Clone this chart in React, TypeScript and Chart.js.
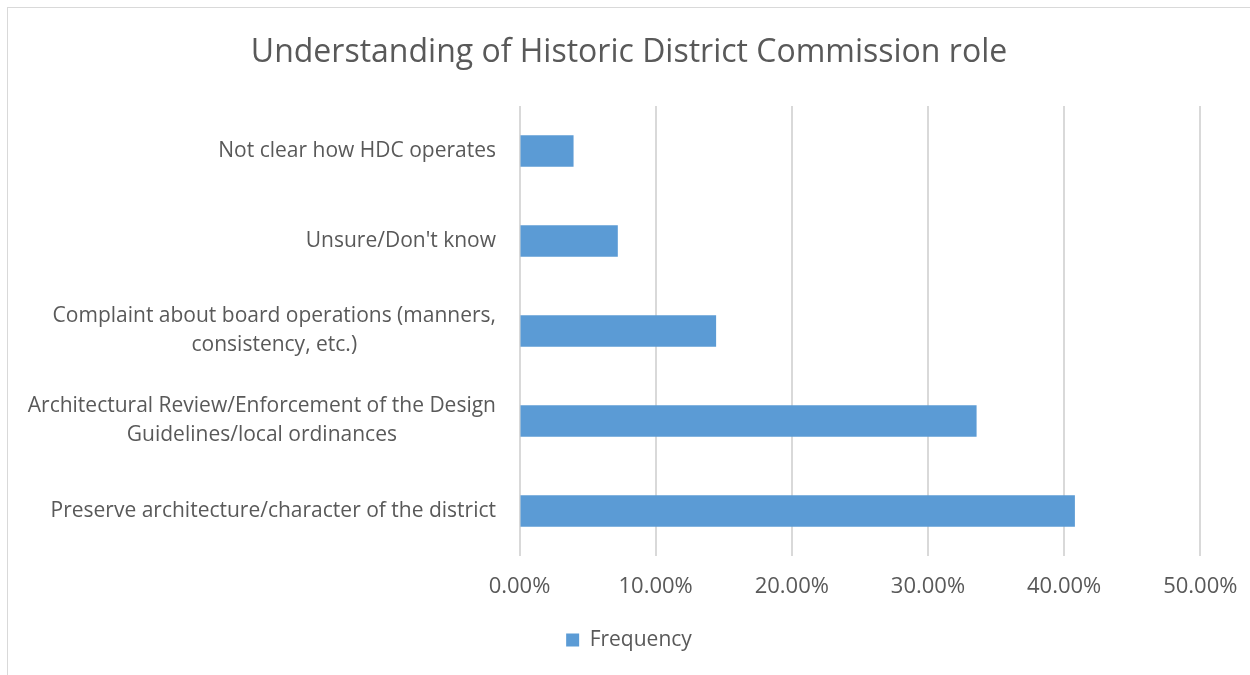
import React, { useEffect, useRef } from "react";
import { Chart, registerables } from "chart.js";

Chart.register(...registerables);

const TITLE = "Understanding of Historic District Commission role";
const SERIES_NAME = "Frequency";
const categories: string[][] = [
  ["Not clear how HDC operates"],
  ["Unsure/Don't know"],
  ["Complaint about board operations (manners,", "consistency, etc.)"],
  ["Architectural Review/Enforcement of the Design", "Guidelines/local ordinances"],
  ["Preserve architecture/character of the district"],
];
const frequency: number[] = [0.0397, 0.0722, 0.1444, 0.3357, 0.4079];
const xTicks: number[] = [0, 0.1, 0.2, 0.3, 0.4, 0.5];

const FONT = '"Open Sans", "Noto Sans", sans-serif';
const TEXT = "#595959";
const BAR = "#5B9BD5";
const GRID = "#D9D9D9";
const LABEL_SIZE = 21;
const LINE_H = 29;

const yLabelPlugin = {
  id: "yLabels",
  afterDraw(chart: any) {
    const ctx = chart.ctx;
    const yScale = chart.scales.y;
    ctx.save();
    ctx.font = `${LABEL_SIZE}px ${FONT}`;
    ctx.fillStyle = TEXT;
    ctx.textBaseline = "middle";
    ctx.textAlign = "center";
    const right = chart.chartArea.left - 23.5;
    categories.forEach((lines, i) => {
      const yc = yScale.getPixelForValue(i);
      const w = Math.max(...lines.map((l) => ctx.measureText(l).width));
      const cx = right - w / 2;
      lines.forEach((l, j) => {
        ctx.fillText(l, cx, yc + (j - (lines.length - 1) / 2) * LINE_H);
      });
    });
    ctx.restore();
  },
};

export default function App() {
  const ref = useRef<HTMLCanvasElement | null>(null);
  useEffect(() => {
    if (!ref.current) return;
    Chart.defaults.font.family = FONT;
    Chart.defaults.color = TEXT;
    const chart = new Chart(ref.current, {
      type: "bar",
      data: {
        labels: categories.map((c) => c.join(" ")),
        datasets: [
          {
            label: SERIES_NAME,
            data: frequency,
            backgroundColor: BAR,
            borderWidth: 0,
            categoryPercentage: 1,
            barPercentage: 0.35,
          },
        ],
      },
      options: {
        indexAxis: "y",
        responsive: false,
        animation: false,
        layout: { padding: { left: 0, right: 0, top: 0, bottom: 14.5 } },
        scales: {
          x: {
            min: 0,
            max: 0.5,
            afterBuildTicks: (scale: any) => {
              scale.ticks = xTicks.map((v) => ({ value: v }));
            },
            afterFit: (scale: any) => {
              scale.height = 63.5;
              scale.paddingRight = 49.7;
            },
            grid: { color: GRID, lineWidth: 2, drawTicks: false },
            border: { display: false },
            ticks: {
              padding: 17.5,
              color: TEXT,
              font: { size: 22, family: FONT },
              callback: (v: any) => (Number(v) * 100).toFixed(2) + "%",
            },
          },
          y: {
            afterFit: (scale: any) => {
              scale.width = 511.5;
            },
            grid: { display: false },
            border: { display: false },
            ticks: { display: false },
          },
        },
        plugins: {
          title: {
            display: true,
            text: TITLE,
            color: TEXT,
            font: { size: 32, family: FONT, weight: "normal" },
            padding: { top: 25.3, bottom: 34.3 },
          },
          legend: {
            display: true,
            position: "bottom",
            labels: {
              boxWidth: 13,
              boxHeight: 13,
              padding: 10,
              color: TEXT,
              font: { size: 21, family: FONT },
            },
          },
          tooltip: { enabled: false },
        },
      },
      plugins: [yLabelPlugin],
    });
    return () => chart.destroy();
  }, []);

  return (
    <div>
      <div
        style={{
          position: "fixed",
          left: 7,
          top: 7,
          width: 1300,
          height: 700,
          border: "1px solid #D9D9D9",
          boxSizing: "border-box",
          pointerEvents: "none",
        }}
      />
      <canvas ref={ref} width={1242} height={667} style={{ display: "block", position: "relative" }} />
    </div>
  );
}
